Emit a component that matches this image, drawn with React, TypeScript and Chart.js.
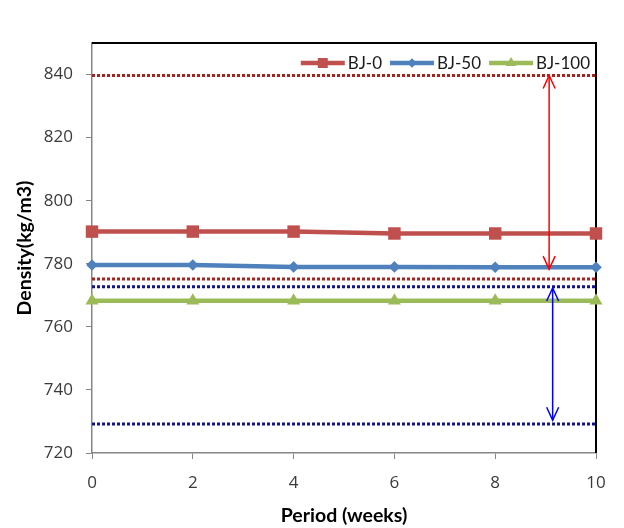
import React, { useEffect, useRef } from 'react';
import { Chart, registerables } from 'chart.js';

Chart.register(...registerables);

// ---- data ----
const periods = [0, 2, 4, 6, 8, 10];
const seriesNames = ['BJ-0', 'BJ-50', 'BJ-100'];
const bj0 = [790.2, 790.2, 790.2, 789.6, 789.6, 789.6];
const bj50 = [779.6, 779.6, 779.0, 779.0, 778.9, 778.9];
const bj100 = [768.3, 768.3, 768.3, 768.3, 768.3, 768.3];
const limitSpan = [0, 10];
const redLimits = [839.7, 775.2];
const blueLimits = [772.7, 729.2];
const redArrow = [9.07, 839.7, 778.3]; // x, top, bottom
const blueArrow = [9.14, 772.3, 730.4];
const yTickValues = [720, 740, 760, 780, 800, 820, 840];
const xAxisTitle = 'Period (weeks)';
const yAxisTitle = 'Density(kg/m3)';

const colors = ['#C0504D', '#4F81BD', '#9BBB59'];
const markers = ['rect', 'rectRot', 'triangle'];
const markerRadius = [8.8, 5.8, 7.5];
const FONT = 'Lato, "Open Sans", sans-serif';
const TICK_FONT = '"Open Sans", Lato, sans-serif';

function drawMarker(ctx: CanvasRenderingContext2D, style: string, x: number, y: number, r: number, color: string) {
  ctx.fillStyle = color;
  ctx.beginPath();
  if (style === 'rect') {
    const s = Math.SQRT1_2 * r;
    ctx.rect(x - s, y - s, 2 * s, 2 * s);
  } else if (style === 'rectRot') {
    ctx.moveTo(x, y - r);
    ctx.lineTo(x + r, y);
    ctx.lineTo(x, y + r);
    ctx.lineTo(x - r, y);
    ctx.closePath();
  } else {
    const a = (2 * Math.PI) / 3;
    ctx.moveTo(x, y - r);
    ctx.lineTo(x + Math.sin(a) * r, y - Math.cos(a) * r);
    ctx.lineTo(x + Math.sin(2 * a) * r, y - Math.cos(2 * a) * r);
    ctx.closePath();
  }
  ctx.fill();
}

function drawArrow(ctx: CanvasRenderingContext2D, x: number, yTop: number, yBot: number, color: string) {
  ctx.strokeStyle = color;
  ctx.lineWidth = 1.5;
  ctx.beginPath();
  ctx.moveTo(x, yTop);
  ctx.lineTo(x, yBot);
  ctx.stroke();
  ctx.beginPath();
  ctx.moveTo(x - 6, yTop + 13);
  ctx.lineTo(x, yTop);
  ctx.lineTo(x + 6, yTop + 13);
  ctx.stroke();
  ctx.beginPath();
  ctx.moveTo(x - 6, yBot - 13);
  ctx.lineTo(x, yBot);
  ctx.lineTo(x + 6, yBot - 13);
  ctx.stroke();
}

const decorPlugin = {
  id: 'decor',
  beforeDatasetsDraw(chart: any) {
    const { ctx, chartArea: a } = chart;
    ctx.save();
    ctx.strokeStyle = '#000000';
    ctx.lineWidth = 2;
    ctx.beginPath();
    ctx.moveTo(a.left, a.top);
    ctx.lineTo(a.right, a.top);
    ctx.lineTo(a.right, a.bottom);
    ctx.stroke();
    ctx.restore();
  },
  afterDatasetsDraw(chart: any) {
    const { ctx, chartArea: a, scales } = chart;
    const x = scales.x;
    const y = scales.y;
    ctx.save();
    drawArrow(ctx, x.getPixelForValue(redArrow[0]), y.getPixelForValue(redArrow[1]), y.getPixelForValue(redArrow[2]), '#FF0000');
    drawArrow(ctx, x.getPixelForValue(blueArrow[0]), y.getPixelForValue(blueArrow[1]), y.getPixelForValue(blueArrow[2]), '#0000FF');

    // legend (inside plot, top right)
    ctx.font = `17px ${FONT}`;
    ctx.textBaseline = 'middle';
    ctx.textAlign = 'left';
    const lineLen = 44;
    const gapText = 3;
    const gapItem = 8;
    const widths = seriesNames.map((n) => ctx.measureText(n).width);
    const total = widths.reduce((s, w) => s + lineLen + gapText + w, 0) + gapItem * (seriesNames.length - 1);
    let lx = a.right - 6 - total;
    const ly = a.top + 20;
    seriesNames.forEach((name, i) => {
      ctx.strokeStyle = colors[i];
      ctx.lineWidth = 4.5;
      ctx.beginPath();
      ctx.moveTo(lx, ly);
      ctx.lineTo(lx + lineLen, ly);
      ctx.stroke();
      drawMarker(ctx, markers[i], lx + lineLen / 2, ly, markerRadius[i] * 0.8, colors[i]);
      ctx.fillStyle = '#1a1a1a';
      ctx.fillText(name, lx + lineLen + gapText, ly + 1);
      lx += lineLen + gapText + widths[i] + gapItem;
    });
    ctx.restore();
  },
};

export default function App() {
  const ref = useRef<HTMLCanvasElement | null>(null);

  useEffect(() => {
    if (!ref.current) return;
    const seriesData = [bj0, bj50, bj100];
    const seriesDatasets = seriesNames.map((name, i) => ({
      label: name,
      data: periods.map((p, j) => ({ x: p, y: seriesData[i][j] })),
      borderColor: colors[i],
      backgroundColor: colors[i],
      borderWidth: 4.5,
      pointStyle: markers[i],
      pointRadius: markerRadius[i],
      pointBorderWidth: 0,
      pointBackgroundColor: colors[i],
      tension: 0,
      clip: false as any,
    }));
    const limitDataset = (v: number, color: string) => ({
      label: 'limit',
      data: limitSpan.map((p) => ({ x: p, y: v })),
      borderColor: color,
      borderWidth: 3,
      borderDash: [3, 2],
      pointRadius: 0,
      tension: 0,
    });
    const datasets: any[] = [
      ...seriesDatasets,
      ...redLimits.map((v) => limitDataset(v, '#A3241F')),
      ...blueLimits.map((v) => limitDataset(v, '#12128C')),
    ];

    const chart = new Chart(ref.current, {
      type: 'line',
      data: { datasets },
      options: {
        responsive: false,
        animation: false,
        layout: { padding: { left: 0, top: 43, right: 28, bottom: 0 } },
        plugins: { legend: { display: false }, tooltip: { enabled: false } },
        scales: {
          x: {
            type: 'linear',
            min: 0,
            max: 10,
            ticks: { stepSize: 2, padding: 14, color: '#3a3a3a', font: { family: TICK_FONT, size: 17 } },
            grid: { drawOnChartArea: false, drawTicks: true, tickLength: 6, color: '#868686' },
            border: { display: true, color: '#868686', width: 1.5 },
            title: { display: true, text: xAxisTitle, color: '#000', font: { family: FONT, size: 19.5, weight: 'bold' }, padding: { top: 0, bottom: 1 } },
            afterFit: (s: any) => { s.height = 75; },
          },
          y: {
            type: 'linear',
            min: 720,
            max: 850,
            afterBuildTicks: (s: any) => { s.ticks = yTickValues.map((v) => ({ value: v })); },
            ticks: { padding: 13, color: '#3a3a3a', font: { family: TICK_FONT, size: 17 } },
            grid: { drawOnChartArea: false, drawTicks: true, tickLength: 6, color: '#868686' },
            border: { display: true, color: '#868686', width: 1.5 },
            title: { display: true, text: yAxisTitle, color: '#000', font: { family: FONT, size: 19.5, weight: 'bold' }, padding: { top: 13, bottom: 0 } },
            afterFit: (s: any) => { s.width = 92; },
          },
        },
      },
      plugins: [decorPlugin],
    } as any);
    return () => chart.destroy();
  }, []);

  return (
    <div style={{ position: 'absolute', left: 0, top: 0, width: 624, height: 528, background: '#fff' }}>
      <canvas ref={ref} width={624} height={528} style={{ display: 'block' }} />
    </div>
  );
}
